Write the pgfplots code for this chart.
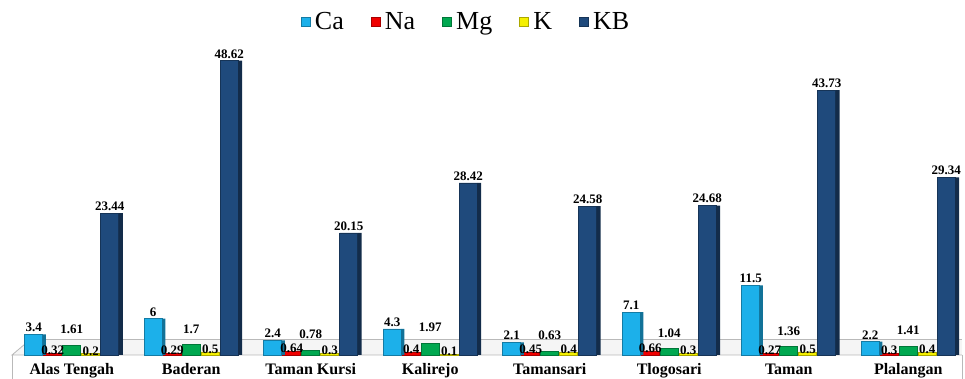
\documentclass[border=0pt]{standalone}
\usepackage{pgfplots}
\pgfplotsset{compat=1.18}
\usepackage{pgfplotstable}
\usepackage{fontspec}
\setmainfont{Liberation Serif}
\definecolor{cCa}{HTML}{1CB0EA}
\definecolor{cNa}{HTML}{F00000}
\definecolor{cMg}{HTML}{00A850}
\definecolor{cK}{HTML}{F5F000}
\definecolor{cKB}{HTML}{1F4A7C}
\pgfplotstableread{
x Ca Na Mg K KB
0 3.4 0.32 1.61 0.2 23.44
1 6 0.29 1.7 0.5 48.62
2 2.4 0.64 0.78 0.3 20.15
3 4.3 0.4 1.97 0.1 28.42
4 2.1 0.45 0.63 0.4 24.58
5 7.1 0.66 1.04 0.3 24.68
6 11.5 0.27 1.36 0.5 43.73
7 2.2 0.3 1.41 0.4 29.34
}\data
\begin{document}
\begin{tikzpicture}
\path[use as bounding box] (-6pt,-12pt) rectangle (476.5pt,177.5pt);
\begin{axis}[
  scale only axis, width=475pt, height=155pt,
  xmin=-0.5, xmax=7.45, ymin=0, ymax=51.2,
  clip=false,
  axis x line*=bottom, x axis line style={draw=none},
  hide y axis,
  ybar,
  /pgf/number format/assume math mode=true,
  xtick={0,...,7},
  xticklabels={Alas Tengah,Baderan,Taman Kursi,Kalirejo,Tamansari,Tlogosari,Taman,Plalangan},
  xticklabel style={font=\fontsize{8}{9}\selectfont\bfseries, text height=1.55ex, text depth=0.3ex, inner sep=1pt, yshift=-1.2pt},
  major tick length=0pt,
  ytick=\empty,
  nodes near coords,
  every node near coord/.append style={font=\fontsize{6.5}{8}\selectfont\bfseries, inner sep=1pt},
  legend style={draw=none, at={(0.479,1.074)}, anchor=center, font=\fontsize{13}{14}\selectfont, legend columns=5,
    /tikz/every even column/.append style={column sep=11.5pt}},
  legend image code/.code={\fill[#1] (0pt,-2.3pt) rectangle (4.6pt,2.3pt);},
]
% floor
\fill[gray!8] (axis cs:-0.35,2.5) -- (axis cs:7.45,2.5) -- (axis cs:7.45,0) -- (axis cs:-0.5,0) -- cycle;
\draw[gray!55] (axis cs:-0.35,2.5) -- (axis cs:7.45,2.5);
\draw[gray!55] (axis cs:-0.35,2.5) -- (axis cs:-0.5,0) -- (axis cs:7.45,0);
\draw[gray!55] (axis cs:-0.5,0) -- (axis cs:-0.5,-5);
\draw[gray!55] (axis cs:7.45,0) -- (axis cs:7.45,-5);
\addplot[fill=cCa, draw=cCa!70!black, bar width=9pt, bar shift=-19pt] table[x=x,y=Ca]{\data};
\addplot[fill=cNa, draw=cNa!70!black, bar width=9pt, bar shift=-9.5pt,
  every node near coord/.append style={yshift=-2pt}] table[x=x,y=Na]{\data};
\addplot[fill=cMg, draw=cMg!70!black, bar width=9pt, bar shift=0pt,
  every node near coord/.append style={yshift=4.5pt}] table[x=x,y=Mg]{\data};
\addplot[fill=cK, draw=cK!70!black, bar width=9pt, bar shift=9.5pt,
  every node near coord/.append style={yshift=-2pt}] table[x=x,y=K]{\data};
\addplot[fill=cKB, draw=cKB!70!black, bar width=9pt, bar shift=19pt] table[x=x,y=KB]{\data};
% side faces (pseudo 3D)
\addplot[forget plot, fill=cCa!65!black, draw=none, bar width=1.6pt, bar shift=-13.7pt, nodes near coords=] table[x=x,y=Ca]{\data};
\addplot[forget plot, fill=cKB!60!black, draw=none, bar width=2pt, bar shift=24.5pt, nodes near coords=] table[x=x,y=KB]{\data};
\legend{Ca,Na,Mg,K,KB}
\end{axis}
\end{tikzpicture}
\end{document}
